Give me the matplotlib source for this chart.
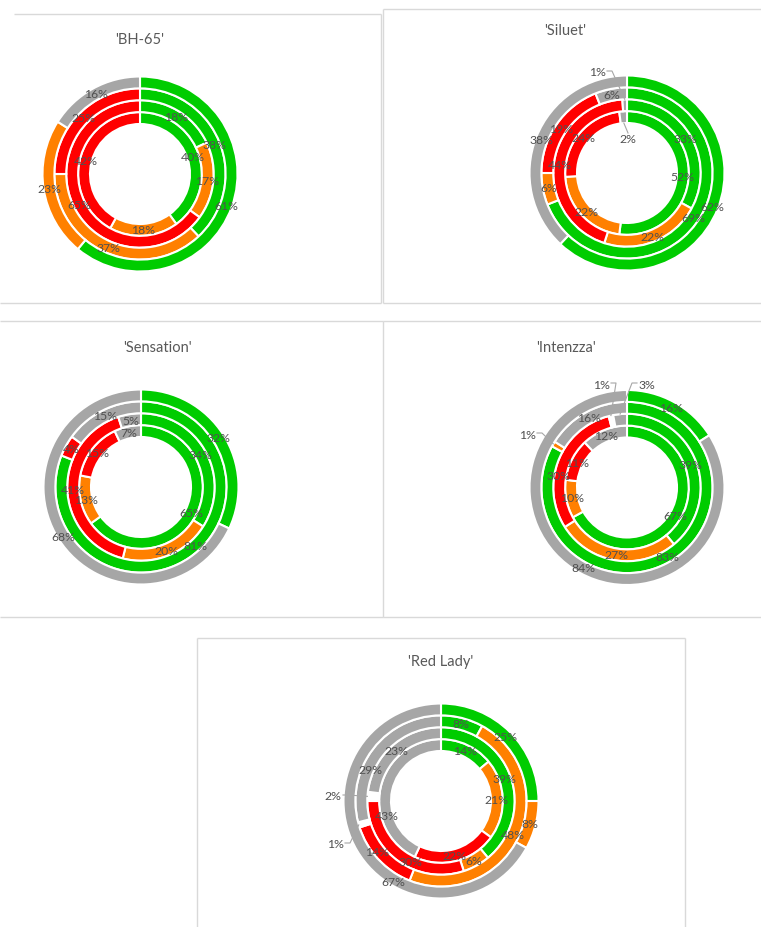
import matplotlib
matplotlib.use("Agg")
import matplotlib.pyplot as plt
import numpy as np

# ---------------------------------------------------------------
# Data: share (%) of each class per ring, rings listed inner -> outer.
# Class order inside every ring: green, orange, red, blank, gray.
# ---------------------------------------------------------------
varieties = ["'BH-65'", "'Siluet'", "'Sensation'", "'Intenzza'", "'Red Lady'"]
class_colors = ["#00CC00", "#FF8000", "#FF0000", "#FFFFFF", "#A6A6A6"]

bh65 = [[40, 18, 42, 0, 0],
        [18, 17, 65, 0, 0],
        [38, 37, 25, 0, 0],
        [61, 23, 0, 0, 16]]
siluet = [[52, 22, 24, 0, 2],
          [33, 22, 44, 0, 1],
          [69, 6, 19, 0, 6],
          [62, 0, 0, 0, 38]]
sensation = [[65, 13, 15, 0, 7],
             [34, 20, 41, 0, 5],
             [81, 0, 4, 0, 15],
             [32, 0, 0, 0, 68]]
intenzza = [[67, 10, 11, 0, 12],
            [39, 27, 30, 1, 3],
            [83, 1, 0, 0, 16],
            [16, 0, 0, 0, 84]]
red_lady = [[14, 21, 22, 0, 43],
            [39, 6, 30, 2, 23],
            [8, 48, 14, 1, 29],
            [25, 8, 0, 0, 67]]
variety_rings = [bh65, siluet, sensation, intenzza, red_lady]

# ---------------------------------------------------------------
# Layout (pixels)
# ---------------------------------------------------------------
W, H, DPI = 761, 928, 100
# panel frame segments: (x0, y0, x1, y1)
frame_lines = [
    (14, 15, 381, 15), (381, 15, 381, 304), (0, 304, 381, 304),
    (383, 10, 761, 10), (383, 10, 383, 304), (383, 304, 761, 304),
    (0, 322, 383, 322), (383, 322, 383, 618), (0, 618, 383, 618),
    (383, 322, 761, 322), (383, 618, 761, 618),
    (197, 639, 685, 639), (197, 639, 197, 928), (685, 639, 685, 928),
]
title_pos = [(140, 40), (565, 31), (157, 348), (566, 348), (441, 662)]
centers = [(140, 175), (627, 174), (141, 488), (627, 488.5), (441, 802)]
HOLE = 50.0
OUTER = 97.5
RING_W = (OUTER - HOLE) / 4
HALF = 150  # half-size of each donut axes in px

# Labels moved away from their wedge with a leader line:
# (variety, ring, class) -> (dx, dy) px from the centre, y up
moved_labels = {
    (1, 1, 4): (-30, 101),
    (1, 0, 4): (1, 34),
    (3, 1, 3): (-26, 103.5),
    (3, 1, 4): (20, 103.5),
    (3, 2, 1): (-100, 53.5),
    (4, 1, 3): (-108, 5),
    (4, 2, 3): (-106, -43),
}
# Labels shifted to avoid neighbours (no leader)
label_nudge = {
    (2, 2, 0): (54, -59),
    (4, 0, 4): (-54, -15),
    (4, 2, 4): (-71, 32),
    (4, 3, 4): (-48, -81),
    (4, 1, 2): (-31, -61),
    (4, 2, 2): (-64, -51),
    (3, 1, 2): (-69, 11.5),
}

plt.rcParams["font.family"] = ["Lato", "DejaVu Sans"]
LABEL_COLOR = "#505050"
LABEL_SIZE = 8.8

fig = plt.figure(figsize=(W / DPI, H / DPI), dpi=DPI)
bg = fig.add_axes([0, 0, 1, 1])
bg.set_xlim(0, W)
bg.set_ylim(H, 0)
bg.axis("off")

for x0, y0, x1, y1 in frame_lines:
    bg.plot([x0, x1], [y0, y1], color="#D9D9D9", lw=1.0, solid_capstyle="butt")
for (tx, ty), name in zip(title_pos, varieties):
    bg.text(tx, ty, name, ha="center", va="center", fontsize=10.5,
            color="#595959")


def polar(theta_deg, r):
    t = np.deg2rad(theta_deg)
    return r * np.sin(t), r * np.cos(t)


for vi, (rings, (cx, cy)) in enumerate(zip(variety_rings, centers)):
    ax = fig.add_axes([(cx - HALF) / W, 1 - (cy + HALF) / H, 2 * HALF / W, 2 * HALF / H])
    ax.axis("off")
    ax.patch.set_alpha(0)

    for ri, ring in enumerate(rings):
        r_out = HOLE + (ri + 1) * RING_W
        r_in = r_out - RING_W
        r_mid = r_out - RING_W / 2
        vals = [v for v in ring if v > 0]
        cols = [c for v, c in zip(ring, class_colors) if v > 0]
        ax.pie(vals, radius=r_out, colors=cols, startangle=90, counterclock=False,
               wedgeprops=dict(width=RING_W, edgecolor="white", linewidth=1.5),
               center=(0, 0), frame=False)

        cum = 0
        for ci, v in enumerate(ring):
            if v <= 0:
                continue
            theta = 360.0 * (cum + v / 2) / 100.0
            cum += v
            key = (vi, ri, ci)
            if key in moved_labels:
                lx, ly = moved_labels[key]
                if np.hypot(lx, ly) < HOLE:
                    tx_, ty_ = polar(theta, r_in)
                    ax.plot([lx, tx_], [ly + 6, ty_], color="#A6A6A6", lw=0.8,
                            clip_on=False, zorder=3)
                else:
                    tx_, ty_ = polar(theta, r_out)
                    side = 1 if tx_ > lx else -1
                    sx = lx + side * 10
                    ax.plot([sx, sx + side * 5, tx_], [ly + 1, ly + 1, ty_],
                            color="#A6A6A6", lw=0.8, clip_on=False, zorder=3)
            elif key in label_nudge:
                lx, ly = label_nudge[key]
            else:
                lx, ly = polar(theta, r_mid)
            ax.text(lx, ly, f"{v}%", ha="center", va="center", fontsize=LABEL_SIZE,
                    color=LABEL_COLOR, clip_on=False, zorder=4)

    ax.set_xlim(-HALF, HALF)
    ax.set_ylim(-HALF, HALF)
    ax.set_aspect("equal")

fig.savefig("out.png", dpi=DPI)
